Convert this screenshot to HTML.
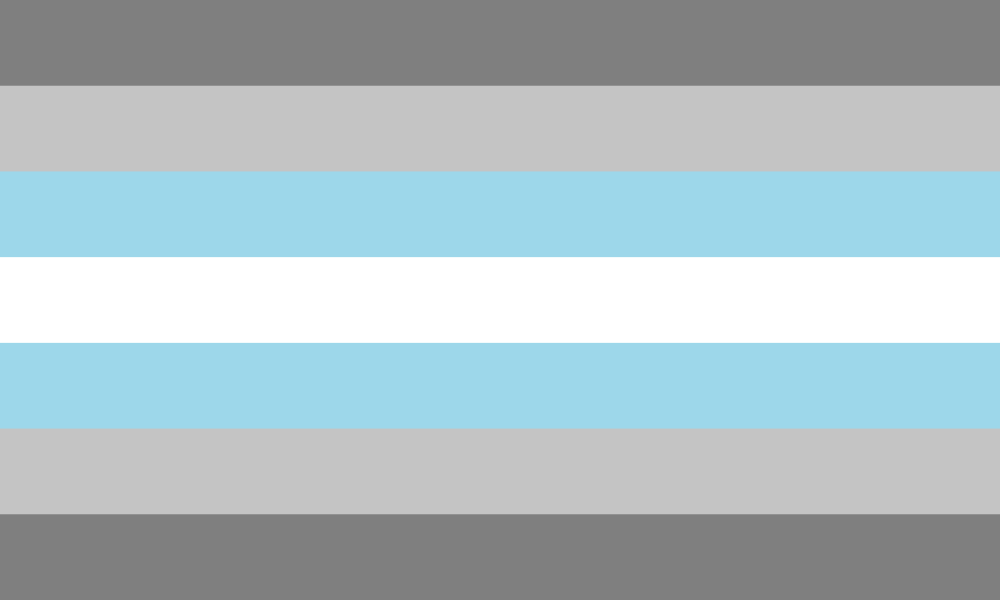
<!DOCTYPE html>
<html>
<head>
<meta charset="utf-8">
<style>
  html, body { margin: 0; padding: 0; width: 1000px; height: 600px; overflow: hidden; background: #fff; }
  svg { display: block; }
</style>
</head>
<body>
<svg id="flag" width="1000" height="600" viewBox="0 0 1000 600" xmlns="http://www.w3.org/2000/svg"></svg>
<script>
const stripeNames = ['stripe-dark-gray-top', 'stripe-light-gray-top', 'stripe-light-blue-top', 'stripe-white', 'stripe-light-blue-bottom', 'stripe-light-gray-bottom', 'stripe-dark-gray-bottom'];
const stripeColors = ['#7f7f7f', '#c4c4c4', '#9dd7ea', '#ffffff', '#9dd7ea', '#c4c4c4', '#7f7f7f'];

const svg = document.getElementById('flag');
const W = 1000, H = 600;
const n = stripeColors.length;
const band = H / n;
for (let i = 0; i < n; i++) {
  const r = document.createElementNS('http://www.w3.org/2000/svg', 'rect');
  r.setAttribute('x', 0);
  r.setAttribute('y', i * band);
  r.setAttribute('width', W);
  r.setAttribute('height', band + 0.5);
  r.setAttribute('fill', stripeColors[i]);
  
  
  svg.appendChild(r);
}
</script>
</body>
</html>
